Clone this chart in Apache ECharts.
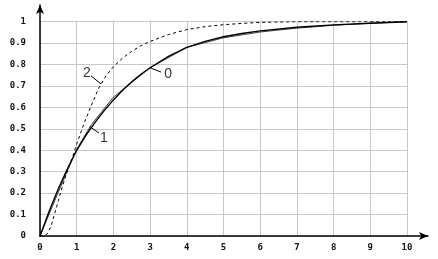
<!DOCTYPE html>
<html><head><meta charset="utf-8">
<script src="https://cdn.jsdelivr.net/npm/echarts@6/dist/echarts.min.js"></script>
<style>html,body{margin:0;padding:0;background:#fff}#c{width:438px;height:259px}</style>
</head><body><div id="c"></div>
<script>
var xTicks = [0,1,2,3,4,5,6,7,8,9,10];
var yTicks = [0,0.1,0.2,0.3,0.4,0.5,0.6,0.7,0.8,0.9,1];
var t0 = [0,0.25,0.5,0.75,1,1.25,1.5,1.75,2,2.25,2.5,2.75,3,3.5,4,4.5,5,5.5,6,7,8,9,10];
var curve0 = [0,0.115,0.22,0.315,0.40,0.47,0.53,0.585,0.635,0.68,0.72,0.755,0.785,0.838,0.88,0.908,0.93,0.945,0.957,0.974,0.985,0.993,1.0];
var t1 = [0,0.5,1,1.4,2,3,4,5,6,7,8,9,10];
var curve1 = [0,0.205,0.405,0.52,0.648,0.785,0.88,0.925,0.952,0.97,0.983,0.993,1.0];
var t2 = [0,0.1,0.2,0.3,0.4,0.5,0.6,0.7,0.8,0.9,1.0,1.2,1.4,1.6,1.8,2.0,2.25,2.5,2.75,3,3.5,4,4.5,5,5.5,6,7,10];
var curve2 = [0,0,0.01,0.045,0.105,0.165,0.225,0.28,0.33,0.375,0.43,0.525,0.61,0.69,0.748,0.79,0.83,0.862,0.888,0.908,0.94,0.963,0.977,0.986,0.992,0.997,1.0,1.0];
// annotations: name, point on curve, leader end, label position
var annNames = ['2','1','0'];
var annFrom = [[1.66,0.71],[1.36,0.51],[3.0,0.785]];
var annTo = [[1.39,0.747],[1.61,0.48],[3.3,0.765]];
var annLabel = [[1.28,0.76],[1.74,0.455],[3.49,0.755]];

function zip(a,b){return a.map(function(v,i){return [v,b[i]];});}
var series = [
  {type:'line',xAxisIndex:0,yAxisIndex:0,data:zip(t1,curve1),showSymbol:false,
   lineStyle:{color:'#444',width:1},z:3},
  {type:'line',xAxisIndex:0,yAxisIndex:0,data:zip(t0,curve0),showSymbol:false,
   lineStyle:{color:'#000',width:1.4},z:4},
  {type:'line',xAxisIndex:0,yAxisIndex:0,data:zip(t2,curve2),showSymbol:false,
   lineStyle:{color:'#000',width:1,type:[3,3]},z:4}
];
annNames.forEach(function(n,i){
  series.push({type:'line',xAxisIndex:0,yAxisIndex:0,data:[annFrom[i],annTo[i]],showSymbol:false,
    lineStyle:{color:'#000',width:1},z:5,silent:true});
  series.push({type:'scatter',xAxisIndex:0,yAxisIndex:0,data:[annLabel[i]],symbolSize:0,z:6,silent:true,
    label:{show:true,position:'inside',formatter:n,fontFamily:'Liberation Sans',fontSize:14,color:'#000'}});
});
var labelStyle = {fontFamily:'DejaVu Sans Mono',fontWeight:'bold',fontSize:9,color:'#111'};
var chart = echarts.init(document.getElementById('c'));
chart.setOption({
  animation:false,
  grid:[{left:40,right:31,top:21.7,bottom:23},{left:40,right:10,top:5,bottom:23}],
  xAxis:[
    {type:'value',gridIndex:0,min:0,max:10,interval:1,axisLine:{show:false},axisTick:{show:false},
     splitLine:{show:true,lineStyle:{color:'#c8c8c8',width:1}},
     axisLabel:Object.assign({margin:7,formatter:function(v){return xTicks.indexOf(v)>=0?String(v):'';}},labelStyle)},
    {type:'value',gridIndex:1,min:0,max:1,axisLine:{show:true,onZero:false,symbol:['none','arrow'],symbolSize:[6,9],
     lineStyle:{color:'#000',width:1.5}},axisTick:{show:false},axisLabel:{show:false},splitLine:{show:false}}
  ],
  yAxis:[
    {type:'value',gridIndex:0,min:0,max:1,interval:0.1,axisLine:{show:false},axisTick:{show:false},
     splitLine:{show:true,lineStyle:{color:'#c8c8c8',width:1}},
     axisLabel:Object.assign({margin:14,formatter:function(v){var r=Math.round(v*10)/10;return r===0?'0':(r===1?'1':r.toFixed(1));}},labelStyle)},
    {type:'value',gridIndex:1,min:0,max:1,axisLine:{show:true,onZero:false,symbol:['none','arrow'],symbolSize:[6,9],
     lineStyle:{color:'#000',width:1.5}},axisTick:{show:false},axisLabel:{show:false},splitLine:{show:false}}
  ],
  series:series
});
</script></body></html>
